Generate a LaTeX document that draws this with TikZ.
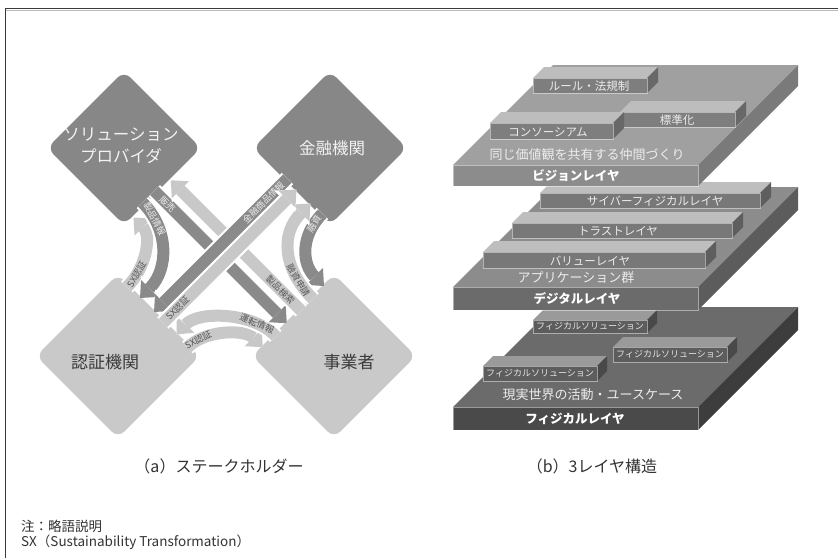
\documentclass[tikz,border=0pt]{standalone}
\usepackage{fontspec}
\setmainfont{Noto Sans CJK JP}
\usetikzlibrary{arrows.meta,shapes.geometric}
\definecolor{dkd}{HTML}{878787}
\definecolor{ltd}{HTML}{C9C9C9}
\definecolor{bandDk}{HTML}{8A8A8A}
\definecolor{bandLt}{HTML}{C8C8C8}
\definecolor{lblDk}{HTML}{EDEDED}
\definecolor{lblLt}{HTML}{555555}
\definecolor{diaTextW}{HTML}{F2F2F2}
\definecolor{diaTextK}{HTML}{3A3A3A}
\definecolor{visT}{HTML}{A0A0A0}
\definecolor{visF}{HTML}{8C8C8C}
\definecolor{visS}{HTML}{7A7A7A}
\definecolor{vbT}{HTML}{BDBDBD}
\definecolor{vbF}{HTML}{7E7E7E}
\definecolor{vbS}{HTML}{686868}
\definecolor{digT}{HTML}{8C8C8C}
\definecolor{digF}{HTML}{6B6B6B}
\definecolor{digS}{HTML}{5C5C5C}
\definecolor{dbT}{HTML}{BEBEBE}
\definecolor{dbF}{HTML}{787878}
\definecolor{dbS}{HTML}{5E5E5E}
\definecolor{phyT}{HTML}{6B6B6B}
\definecolor{phyF}{HTML}{4A4A4A}
\definecolor{phyS}{HTML}{3D3D3D}
\definecolor{pbT}{HTML}{9A9A9A}
\definecolor{pbF}{HTML}{5D5D5D}
\definecolor{pbS}{HTML}{494949}
\definecolor{frameK}{HTML}{3A3A3A}
\definecolor{frameG}{HTML}{BBBBBB}
\definecolor{capK}{HTML}{333333}

\newcommand\drawslab[8]{%
  \fill[#6] (#1,#2) -- ++(#3,0) -- ++(#5,-#5) -- ++(-#3,0) -- cycle;
  \fill[#8] (#1+#3,#2) -- ++(#5,-#5) -- ++(0,#4) -- ++(-#5,#5) -- cycle;
  \fill[#7] (#1,#2) rectangle ++(#3,#4);
  \draw[white, opacity=0.45, line width=0.7pt] (#1,#2) rectangle ++(#3,#4);
}

\begin{document}
\begin{tikzpicture}[x=1pt,y=-1pt,
  dia/.style={diamond, aspect=1, inner sep=0pt, rounded corners=9pt},
  diaD/.style={dia, fill=dkd, minimum width=154pt, minimum height=154pt},
  diaL/.style={dia, fill=ltd, minimum width=164pt, minimum height=164pt},
  dtxtW/.style={text=diaTextW, font=\fontsize{16.5pt}{22pt}\selectfont, align=center, inner sep=0pt},
  dtxtK/.style={text=diaTextK, font=\fontsize{17pt}{22pt}\selectfont, inner sep=0pt},
  band/.style={line width=12pt, -{Triangle[width=24pt,length=13.5pt,line width=0pt]},
    preaction={draw=white, line width=16pt, -{Triangle[width=30pt,length=16.5pt,line width=0pt]}}},
  bandD/.style={band, draw=bandDk},
  bandL/.style={band, draw=bandLt},
  lblD/.style={sloped, text=lblDk, font=\fontsize{9pt}{9pt}\selectfont, inner sep=0pt},
  lblL/.style={sloped, text=lblLt, font=\fontsize{9pt}{9pt}\selectfont, inner sep=0pt},
  slabtxt/.style={text=white!93!black, font=\fontsize{13pt}{14pt}\selectfont, inner sep=0pt},
  layertxt/.style={text=white, font=\fontsize{12.5pt}{14pt}\selectfont\bfseries, inner sep=0pt},
  blocktxt/.style={text=white!93!black, font=\fontsize{11.5pt}{13pt}\selectfont, inner sep=0pt},
  smalltxt/.style={text=white!90!black, font=\fontsize{9pt}{10pt}\selectfont, inner sep=0pt},
  captxt/.style={text=capK, font=\fontsize{16pt}{18pt}\selectfont, inner sep=0pt},
  notetxt/.style={text=capK, font=\fontsize{13.5pt}{15pt}\selectfont, inner sep=0pt, anchor=west}
]
\useasboundingbox (0,0) rectangle (838,558);

% frame
\draw[frameG, line width=1pt] (5.5,10) -- (838,10);
\draw[frameK, line width=1pt] (5,558) -- (5,8.5) -- (838,8.5);

% diamonds
\node[diaD] (sp) at (124,148) {};
\node[diaD] (fi) at (330,148) {};
\node[diaL] (ce) at (118,356) {};
\node[diaL] (bi) at (334,356) {};

\node[dtxtW] (tsp) at (121,146) {ソリューション\\プロバイダ};
\node[dtxtW] (tfi) at (332,148) {金融機関};
\node[dtxtK] (tce) at (105,362) {認証機関};
\node[dtxtK] (tbi) at (349,362) {事業者};

% connector end points
\coordinate (aS) at (154.25,190.75);
\coordinate (aE) at (286.75,323.25);
\coordinate (bS) at (301.25,310.75);
\coordinate (bE) at (170.75,180.25);
\coordinate (cS) at (287.5,178.5);
\coordinate (cE) at (154,312);
\coordinate (dS) at (163,323);
\coordinate (dE) at (296.5,189.5);
\coordinate (eS) at (142.5,202.5);
\coordinate (eE) at (140,298);
\coordinate (fS) at (127,287);
\coordinate (fE) at (133.5,217.5);
\coordinate (gS) at (322.5,213.5);
\coordinate (gE) at (324,286);
\coordinate (hS) at (313,299);
\coordinate (hE) at (310.5,203.5);
\coordinate (iS) at (187.5,347.5);
\coordinate (iE) at (262.75,347.25);
\coordinate (jS) at (275.75,336.25);
\coordinate (jE) at (176.5,334.5);

% bottom curves
\draw[bandL] (iS) .. controls (205.5,329.5) and (244.75,329.25) .. (iE)
  node[lblL, pos=0.17] (li) {SX認証};
\draw[bandL] (jS) .. controls (253.75,312.25) and (198.5,310.5) .. (jE)
  node[lblL, pos=0.22] (lj) {運転情報};
% left curves
\draw[bandL] (fS) .. controls (146,268) and (152,236) .. (fE)
  node[lblL, pos=0.2] (lf) {SX認証};
\draw[bandD] (eS) .. controls (169,229) and (169,269) .. (eE)
  node[lblD, pos=0.19] (le) {製品情報};
% right curves
\draw[bandD] (gS) .. controls (300,236) and (302,264) .. (gE)
  node[lblD, pos=0.15] (lg) {融資};
\draw[bandL] (hS) .. controls (283,269) and (280,234) .. (hE)
  node[lblL, pos=0.2] (lh) {融資申請};
% straight diagonals
\draw[bandD] (aS) -- (aE) node[lblD, pos=0.1] (la) {販売};
\draw[bandL] (bS) -- (bE) node[lblL, pos=0.16] (lb) {製品検索};
\draw[bandD] (cS) -- (cE) node[lblD, pos=0.18] (lc) {金融商品情報};
\draw[bandL] (dS) -- (dE) node[lblL, pos=0.11] (ld) {SX認証};

% captions
\node[captxt] (capa) at (219,466) {（a）ステークホルダー};
\node[captxt] (capb) at (592,466) {（b）3レイヤ構造};

% physical layer
\drawslab{453}{407}{245}{23}{100}{phyT}{phyF}{phyS}
\drawslab{533}{320}{114}{13}{10}{pbT}{pbF}{pbS}
\drawslab{613}{347}{114}{15}{10}{pbT}{pbF}{pbS}
\drawslab{483}{366}{114}{15}{10}{pbT}{pbF}{pbS}
\node[smalltxt] (p1) at (590,326.5) {フィジカルソリューション};
\node[smalltxt] (p2) at (670,354.5) {フィジカルソリューション};
\node[smalltxt] (p3) at (540,373.5) {フィジカルソリューション};
\node[slabtxt] (pt) at (593,395) {現実世界の活動・ユースケース};
\node[layertxt] (pl) at (575,418.5) {フィジカルレイヤ};

% digital layer
\drawslab{453}{287}{245}{23}{100}{digT}{digF}{digS}
\drawslab{540}{193}{220}{15}{11}{dbT}{dbF}{dbS}
\drawslab{512}{223}{220}{15}{11}{dbT}{dbF}{dbS}
\drawslab{483}{252}{222}{16}{11}{dbT}{dbF}{dbS}
\node[blocktxt] (d1) at (655,201) {サイバーフィジカルレイヤ};
\node[blocktxt] (d2) at (618,231) {トラストレイヤ};
\node[blocktxt] (d3) at (590,261) {バリューレイヤ};
\node[slabtxt] (dt) at (576,278) {アプリケーション群};
\node[layertxt] (dl) at (577,298.5) {デジタルレイヤ};

% vision layer
\drawslab{453}{165}{245}{21}{100}{visT}{visF}{visS}
\drawslab{533}{78}{114}{15}{11}{vbT}{vbF}{vbS}
\drawslab{620}{112}{115}{15}{11}{vbT}{vbF}{vbS}
\drawslab{490}{123}{123}{16}{11}{vbT}{vbF}{vbS}
\node[blocktxt] (v1) at (589,86) {ルール・法規制};
\node[blocktxt] (v2) at (677,120) {標準化};
\node[blocktxt] (v3) at (548,132) {コンソーシアム};
\node[slabtxt] (vt) at (587,155) {同じ価値観を共有する仲間づくり};
\node[layertxt] (vl) at (576,175.5) {ビジョンレイヤ};

% note
\node[notetxt] (n1) at (21,526) {注：略語説明};
\node[notetxt] (n2) at (21,542) {SX（Sustainability Transformation）};
\end{tikzpicture}
\end{document}
